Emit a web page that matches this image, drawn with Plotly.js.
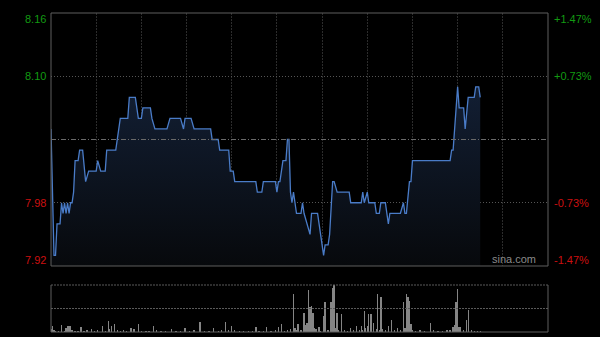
<!DOCTYPE html>
<html><head><meta charset="utf-8">
<script src="https://cdn.plot.ly/plotly-3.0.1.min.js"></script>
<style>html,body{margin:0;padding:0;background:#000;}#chart{width:600px;height:337px;}</style>
</head><body><div id="chart"></div>
<script>
// minute of the trading session (HK: 330 min) and price
const priceT = [0,2,3,4,6,7,8,9,10,11,12,13,14,15,16,18,19,21,23,25,30,31,33,36,37,43,46,51,52,56,58,60,61,66,67,69,77,79,86,88,89,93,95,106,107,111,112,118,119,121,122,136,137,140,141,149,150,151,152,154,156,157,158,159,160,161,162,163,166,167,168,172,173,177,178,179,181,182,184,185,187,188,190,198,199,206,207,208,210,211,215,216,218,219,222,224,225,232,234,235,236,238,239,240,265,266,267,270,271,274,275,277,281,282,284,285];
const priceV = [8.05,7.93,7.93,7.96,7.96,7.98,7.97,7.98,7.97,7.98,7.97,7.98,7.98,7.99,8.02,8.02,8.03,8.03,8.00,8.01,8.01,8.02,8.01,8.01,8.03,8.03,8.06,8.06,8.08,8.08,8.06,8.06,8.07,8.07,8.06,8.05,8.05,8.06,8.06,8.05,8.06,8.06,8.05,8.05,8.04,8.04,8.03,8.03,8.01,8.01,8.00,8.00,7.99,7.99,8.00,8.00,7.99,8.00,8.00,8.02,8.02,8.04,8.04,7.99,7.98,7.99,7.98,7.97,7.97,7.98,7.97,7.95,7.97,7.97,7.96,7.95,7.93,7.94,7.94,7.95,8.00,8.00,7.99,7.99,7.98,7.98,7.99,7.98,7.99,7.98,7.98,7.97,7.97,7.98,7.98,7.96,7.97,7.97,7.98,7.97,7.97,8.00,8.00,8.02,8.02,8.03,8.03,8.09,8.07,8.07,8.05,8.08,8.08,8.09,8.09,8.08];
// volume (relative to the largest bar)
const volT = [0,1,2,3,5,7,9,10,11,12,13,14,16,18,20,22,24,27,29,31,34,36,38,39,40,42,44,46,48,50,53,55,58,60,63,65,68,70,73,76,80,83,86,89,92,95,99,102,105,108,111,113,116,118,120,122,125,128,131,134,136,138,141,143,146,149,151,153,155,157,159,161,162,163,164,166,168,169,170,171,172,173,174,175,176,178,179,181,182,184,186,187,188,189,190,191,193,195,197,199,201,203,205,206,207,208,209,210,211,212,213,214,216,217,218,219,220,222,224,226,228,230,232,234,235,236,237,238,239,240,242,245,248,252,254,257,260,263,265,267,268,269,270,271,272,274,276,277,279,281,283,285];
const volV = [6,13,4,3,2,14,3,8,13,12,13,4,3,3,10,3,4,6,3,4,12,3,24,6,12,18,4,3,4,3,9,6,17,3,2,3,12,4,2,3,7,3,3,8,3,4,22,3,2,9,3,4,22,4,12,4,3,3,2,3,10,3,3,10,3,4,10,17,3,4,6,81,9,5,17,5,41,15,20,89,54,56,41,8,6,10,3,33,63,5,63,93,100,8,40,5,39,4,3,8,4,13,5,13,4,44,8,12,39,39,39,19,6,80,5,75,6,4,12,26,4,8,4,63,8,80,75,66,18,5,3,4,3,19,4,3,3,4,5,10,15,63,92,10,10,5,26,46,4,3,3,2];
const yTicks = [8.16, 8.10, 7.98, 7.92];
const yLabels = ['8.16', '8.10', '7.98', '7.92'];
const pctLabels = ['+1.47%', '+0.73%', '-0.73%', '-1.47%'];
const prevClose = 8.04;
const sessionMinutes = 330;

const yMin = 7.92, yMax = 8.16;
const green = '#129a12', red = '#cc1010';
const fnt = 'Arial, "Liberation Sans", sans-serif';

const traces = [
  {x: priceT, y: priceT.map(() => yMin), type: 'scatter', mode: 'lines', line: {width: 0}, hoverinfo: 'skip', showlegend: false, xaxis: 'x', yaxis: 'y'},
  {x: priceT, y: priceV, type: 'scatter', mode: 'lines', fill: 'tonexty',
   fillgradient: {type: 'vertical', start: 7.92, stop: 8.10, colorscale: [[0, 'rgba(7,9,12,1)'], [1, 'rgba(19,32,54,1)']]},
   line: {color: '#4a7cc8', width: 1.3}, showlegend: false, xaxis: 'x', yaxis: 'y'},
  {x: volT, y: volV, type: 'bar', marker: {color: '#858585', line: {width: 0}}, width: 0.9, showlegend: false, xaxis: 'x2', yaxis: 'y2'}
];

const annotations = [];
yTicks.forEach((v, i) => {
  const col = v > prevClose ? green : red;
  const shift = i === 0 ? -6 : (i === yTicks.length - 1 ? 6 : 0);
  annotations.push({xref: 'paper', yref: 'y', x: 0, y: v, xanchor: 'right', yanchor: 'middle', xshift: -3, yshift: shift, text: yLabels[i], showarrow: false, font: {family: fnt, size: 11, color: col}});
  annotations.push({xref: 'paper', yref: 'y', x: 1, y: v, xanchor: 'left', yanchor: 'middle', xshift: 4, yshift: shift, text: pctLabels[i], showarrow: false, font: {family: fnt, size: 11, color: col}});
});
annotations.push({xref: 'paper', yref: 'y', x: 0.98, y: yMin, xanchor: 'right', yanchor: 'bottom', text: 'sina.com', showarrow: false, yshift: -1, font: {family: fnt, size: 11, color: '#8a8a8a'}});

const border = '#5f5f5f';
const shapes = [
  // main panel border
  {type: 'line', xref: 'paper', yref: 'y domain', x0: 0, x1: 1, y0: 1, y1: 1, line: {color: border, width: 1}},
  {type: 'line', xref: 'paper', yref: 'y domain', x0: 0, x1: 1, y0: 0, y1: 0, line: {color: border, width: 1}},
  {type: 'line', xref: 'paper', yref: 'y domain', x0: 0, x1: 0, y0: 0, y1: 1, line: {color: border, width: 1}},
  {type: 'line', xref: 'paper', yref: 'y domain', x0: 1, x1: 1, y0: 0, y1: 1, line: {color: border, width: 1}},
  // previous close
  {type: 'line', xref: 'paper', yref: 'y', x0: 0, x1: 1, y0: prevClose, y1: prevClose, line: {color: '#6a6a6a', width: 1, dash: '5px,2px,1px,2px'}},
  // volume panel border
  {type: 'line', xref: 'paper', yref: 'y2 domain', x0: 0, x1: 1, y0: 1, y1: 1, line: {color: '#5a5a5a', width: 1, dash: '2px,1px'}},
  {type: 'line', xref: 'paper', yref: 'y2 domain', x0: 0, x1: 1, y0: 0.5, y1: 0.5, line: {color: '#5a5a5a', width: 1, dash: '2px,1px'}},
  {type: 'line', xref: 'paper', yref: 'y2 domain', x0: 0, x1: 1, y0: 0, y1: 0, line: {color: border, width: 1}},
  {type: 'line', xref: 'paper', yref: 'y2 domain', x0: 0, x1: 0, y0: 0, y1: 1, line: {color: border, width: 1}},
  {type: 'line', xref: 'paper', yref: 'y2 domain', x0: 1, x1: 1, y0: 0, y1: 1, line: {color: border, width: 1}}
];

const gridT = [];
for (let m = 30; m < sessionMinutes; m += 30) gridT.push(m);

const layout = {
  width: 600, height: 337,
  margin: {l: 51, r: 52, t: 13, b: 5, pad: 0},
  paper_bgcolor: '#000', plot_bgcolor: '#000',
  showlegend: false,
  bargap: 0,
  xaxis: {domain: [0, 1], range: [0, sessionMinutes], tickvals: gridT, showticklabels: false, ticks: '', showgrid: true, gridcolor: '#2c2c2c', griddash: '2px,1px', gridwidth: 1, zeroline: false, showline: false, anchor: 'y'},
  yaxis: {domain: [0.2069, 1], range: [yMin, yMax], tickvals: [8.10, 7.98], showticklabels: false, ticks: '', showgrid: true, gridcolor: '#555', griddash: '1px,2px', zeroline: false, showline: false},
  xaxis2: {domain: [0, 1], range: [0, sessionMinutes], showticklabels: false, ticks: '', showgrid: false, zeroline: false, showline: false, anchor: 'y2'},
  yaxis2: {domain: [0, 0.1473], range: [0, 100], showticklabels: false, ticks: '', showgrid: false, zeroline: false, showline: false},
  annotations: annotations,
  shapes: shapes
};

Plotly.newPlot('chart', traces, layout, {displayModeBar: false, staticPlot: true});
</script>
</body></html>
